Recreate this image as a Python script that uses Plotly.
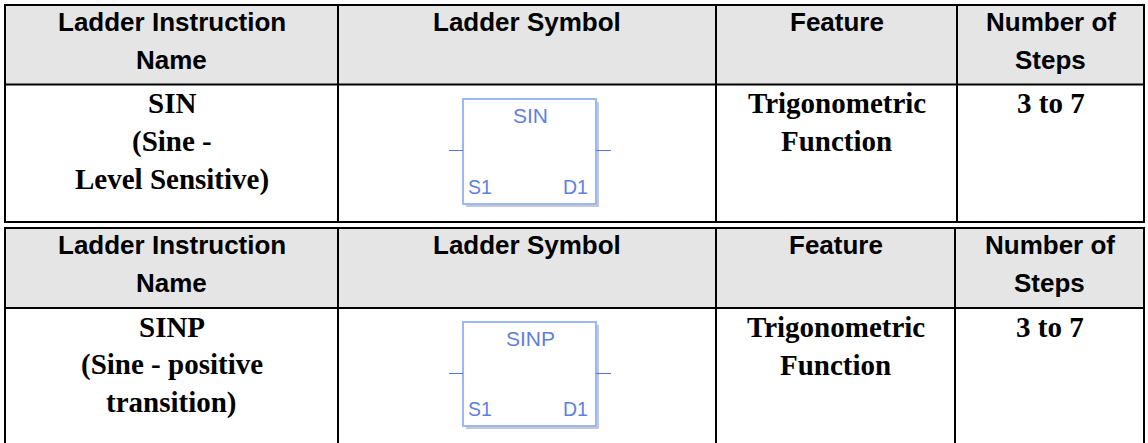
import plotly.graph_objects as go

HEADERS = [["Ladder Instruction", "Name"], ["Ladder Symbol"], ["Feature"], ["Number of", "Steps"]]
INSTRUCTIONS = [["SIN", "(Sine -", "Level Sensitive)"], ["SINP", "(Sine - positive", "transition)"]]
FEATURE = ["Trigonometric", "Function"]
STEPS = ["3 to 7"]
SYMBOL_TITLES = ["SIN", "SINP"]
SYMBOL_PORTS = ["S1", "D1"]

W, H = 1148, 443
ARIAL = "Liberation Sans"
TIMES = "Liberation Serif"
BLUE = "#5f7fe0"
LEAD = 38

# table geometry: (top, header bottom, bottom, column lines)
TABLES = [
    dict(top=5, hdr=84.5, bot=222, cols=[5, 338, 716, 957, 1144]),
    dict(top=228, hdr=308, bot=445, cols=[5, 338, 716, 955, 1144]),
]
BOXES = [(463, 99, 596, 204), (463, 322, 596, 426)]

shapes, ann = [], []


def line(x0, y0, x1, y1, color="black", width=2):
    shapes.append(dict(type="line", x0=x0, y0=y0, x1=x1, y1=y1, line=dict(color=color, width=width)))


def text(x, y, s, font, size, color="black", bold=True):
    ann.append(dict(x=x, y=y, text=f"<b>{s}</b>" if bold else s, showarrow=False, xanchor="center",
                    yanchor="middle", font=dict(family=font, size=size, color=color)))


for t in TABLES:
    c = t["cols"]
    shapes.append(dict(type="rect", x0=c[0], x1=c[-1], y0=t["top"], y1=t["hdr"], fillcolor="#e5e5e5", line_width=0, layer="below"))
    for y in (t["top"], t["hdr"], t["bot"]):
        line(c[0] - 1, y, c[-1] + 1, y, width=2)
    for x in c:
        line(x, t["top"], x, t["bot"], width=2)
    for i, hdr in enumerate(HEADERS):
        cx = (c[i] + c[i + 1]) / 2
        for j, s in enumerate(hdr):
            text(cx, t["top"] + 17 + j * LEAD, s, ARIAL, 26)

for k, t in enumerate(TABLES):
    c = t["cols"]
    top = t["hdr"] + 18.5
    for j, s in enumerate(INSTRUCTIONS[k]):
        text((c[0] + c[1]) / 2, top + j * LEAD, s, TIMES, 29)
    for j, s in enumerate(FEATURE):
        text((c[2] + c[3]) / 2, top + j * LEAD, s, TIMES, 29)
    text((c[3] + c[4]) / 2, top, STEPS[0], TIMES, 29)

    x0, y0, x1, y1 = BOXES[k]
    mid = y0 + 51.5
    shapes.append(dict(type="rect", x0=x0 + 3, x1=x1 + 3, y0=y0 + 3, y1=y1 + 3, fillcolor="#c4c8d0", line_width=0, layer="below"))
    shapes.append(dict(type="rect", x0=x0, x1=x1, y0=y0, y1=y1, fillcolor="white", line=dict(color="#9db8f0", width=2), layer="below"))
    line(449, mid, x0, mid, "#5577dd", 1)
    line(x1, mid, 611, mid, "#5577dd", 1)
    text((x0 + x1) / 2 + 1, y0 + 16, SYMBOL_TITLES[k], ARIAL, 21, BLUE, bold=False)
    text(x0 + 17, y1 - 17, SYMBOL_PORTS[0], ARIAL, 19.5, BLUE, bold=False)
    text(x1 - 21, y1 - 17, SYMBOL_PORTS[1], ARIAL, 19.5, BLUE, bold=False)

fig = go.Figure()
fig.update_layout(
    width=W, height=H, margin=dict(l=0, r=0, t=0, b=0), paper_bgcolor="white", plot_bgcolor="white",
    xaxis=dict(range=[0, W], visible=False, fixedrange=True),
    yaxis=dict(range=[H, 0], visible=False, fixedrange=True),
    shapes=shapes, annotations=ann, showlegend=False,
)
fig.write_html("out.html", config=dict(displayModeBar=False),
               post_script="document.body.style.margin='0';document.documentElement.style.overflow='hidden';")
